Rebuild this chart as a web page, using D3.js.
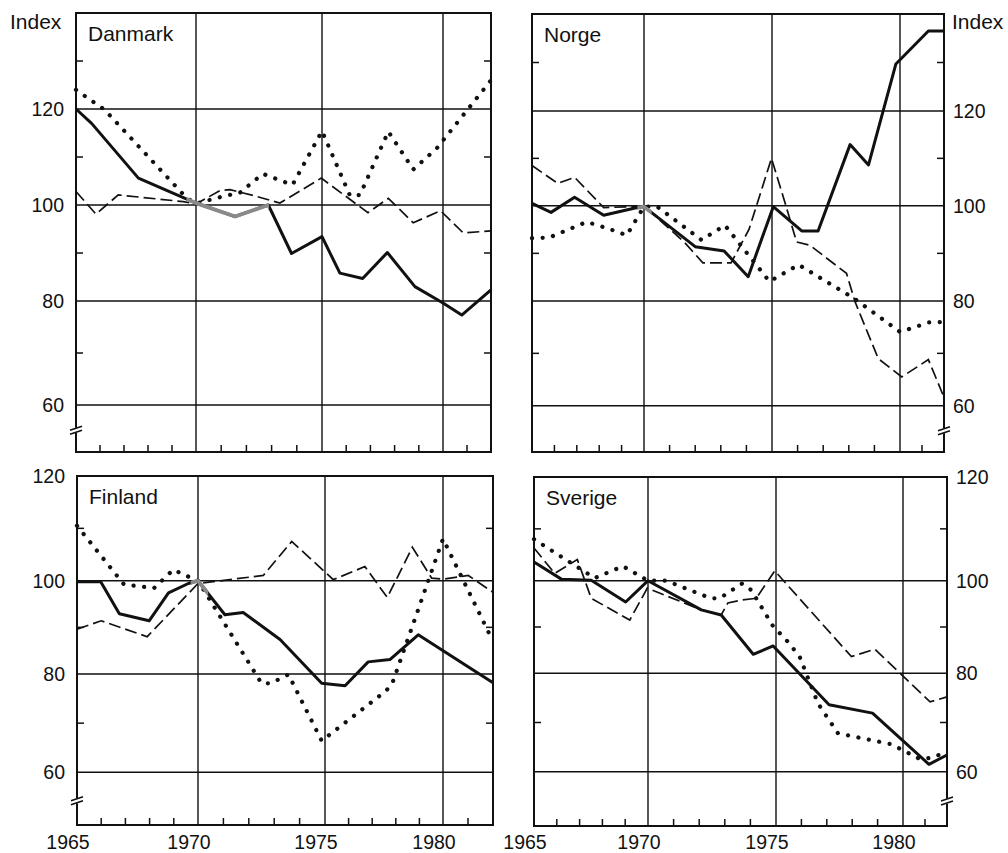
<!DOCTYPE html>
<html>
<head>
<meta charset="utf-8">
<script src="https://cdn.jsdelivr.net/npm/d3@7"></script>
<style>
body { margin: 0; background: #fff; }
svg text { font-family: "Liberation Sans", Arial, sans-serif; fill: #111; }
</style>
</head>
<body>
<svg id="chart" width="1008" height="853"></svg>
<script>
// data : [year, index (1970 = 100)]
var danmark_solid = [[1965,120],[1965.65,117],[1967.6,105.6],[1970,100.4],[1971.55,97.6],[1972.87,100],[1973.79,89.9],[1975,93.4],[1975.74,85.8],[1976.68,84.7],[1977.7,90.1],[1978.84,83],[1980,79.6],[1980.78,77.3],[1982,82.3]];
var danmark_dashed = [[1965,102.8],[1965.83,98.1],[1966.76,102.1],[1969.47,100.7],[1970,100.2],[1970.95,103],[1971.35,103.2],[1972.4,101.8],[1973.33,100.4],[1974.97,105.6],[1976.9,98.4],[1977.74,101.4],[1978.77,96.3],[1979.9,98.8],[1980.84,94.2],[1982,94.6]];
var danmark_dotted = [[1965,124],[1966.2,119.8],[1969.6,101.5],[1970,100.3],[1971,101.7],[1971.75,102.6],[1972.65,106.5],[1973.45,104.9],[1973.83,104.2],[1975,115.4],[1976.16,101.9],[1976.57,102.1],[1977.74,115.3],[1978.77,107.4],[1979.74,111.8],[1982,126]];

var norge_solid = [[1965,100.5],[1965.85,98.6],[1966.9,101.8],[1968.2,98],[1969.6,99.5],[1970,99.8],[1972,91.4],[1973.13,90.5],[1974.07,85.1],[1975.05,99.8],[1976.16,94.7],[1976.8,94.7],[1978.05,112.9],[1978.77,108.6],[1979.84,129.7],[1981.29,136.5],[1982,136.5]];
var norge_dashed = [[1965,108.5],[1966.15,104.7],[1966.9,106],[1968.2,99.6],[1969.45,99.8],[1970,100],[1971.6,92.2],[1972.3,88],[1973.4,88],[1974.1,95],[1974.98,110],[1975.5,100.8],[1975.96,92.4],[1976.48,91.7],[1977.91,85.8],[1978.24,79.9],[1979.15,69],[1980.08,65.5],[1981.29,68.8],[1982,61.6]];
var norge_dotted = [[1965,93.2],[1965.76,93.3],[1967.44,96.6],[1968.4,95.2],[1969.23,93.8],[1970,99.8],[1970.49,99.9],[1972.25,92.8],[1973.16,95.9],[1974.9,84.1],[1976.04,87.6],[1978.19,80.6],[1980,74.1],[1981.32,75.9],[1982,76]];

var finland_solid = [[1965,99.8],[1965.98,99.8],[1966.75,92.9],[1967.98,91.4],[1968.78,97.4],[1969.6,99.4],[1970,100],[1971.06,92.7],[1971.78,93.2],[1973.23,87.4],[1974.87,78.1],[1975.85,77.6],[1976.83,82.6],[1977.75,83.1],[1978.95,88.4],[1982,78.2]];
var finland_dashed = [[1965,89.6],[1966,91.4],[1967.9,88],[1970,99.4],[1972.57,101],[1973.69,107.5],[1975.35,100.2],[1976.69,102.7],[1977.64,96.4],[1978.7,106.4],[1979.52,100.5],[1980,100.3],[1981.01,101],[1982,97.5]];
var finland_dotted = [[1965,110.5],[1966.94,99.2],[1968.18,98.4],[1968.98,102.1],[1969.64,100.7],[1970,100],[1972.5,78.1],[1972.86,78.1],[1973.56,79.9],[1974.87,66.4],[1977.54,76.4],[1977.83,77.8],[1980,108],[1982,87]];

var sverige_solid = [[1965,103.6],[1966.2,100.3],[1967.51,100.1],[1969.02,95.4],[1970,100],[1972.08,93.7],[1972.86,92.6],[1974.11,84.1],[1974.89,85.9],[1977.09,73.6],[1978.8,71.9],[1981.18,61.5],[1982,63.4]];
var sverige_dashed = [[1965,106.3],[1965.91,101.4],[1966.9,104.1],[1967.51,96.2],[1969.2,91.5],[1969.97,98.4],[1972.08,93.7],[1972.86,92.6],[1973.12,95.2],[1973.64,95.8],[1974.23,96.2],[1974.95,101.9],[1977.97,83.6],[1978.89,85.2],[1981.23,74.2],[1982,75.2]];
var sverige_dotted = [[1965,108],[1967.66,100.5],[1968.9,102.8],[1970,100],[1970.71,100],[1972.45,96.2],[1972.8,96.2],[1973.68,99.4],[1974.03,98],[1974.88,90.2],[1975.47,86.8],[1975.93,83.6],[1976.65,73.9],[1977.44,67.8],[1979.53,65.6],[1980.76,62.6],[1981.3,62.8],[1982,64.1]];

var year_labels = [1965, 1970, 1975, 1980];
var year_grid = [1970, 1975, 1980];
var index_labels = [60, 80, 100, 120];
var index_minor = [70, 90, 110, 130];

// the printed grid is hand drawn, so the scales are piecewise
var x_domain = [1965, 1970, 1975, 1980, 1982];
var y_domain_top = [50, 60, 80, 100, 120, 140];
var y_domain_bottom = [50, 60, 80, 100, 120];

var panels = [
  { name: "Danmark", solid: danmark_solid, dashed: danmark_dashed, dotted: danmark_dotted,
    grey: [1969.6, 1972.9], side: "left", row: "top",
    xr: [76, 196, 322, 443, 491], yr: [452, 405, 301, 205, 109, 13] },
  { name: "Norge", solid: norge_solid, dashed: norge_dashed, dotted: norge_dotted,
    grey: [1969.7, 1970.3], side: "right", row: "top",
    xr: [532, 644, 772, 900, 944], yr: [452, 405.7, 301, 205.7, 111, 14] },
  { name: "Finland", solid: finland_solid, dashed: finland_dashed, dotted: finland_dotted,
    grey: [1969.7, 1970.4], side: "left", row: "bottom",
    xr: [77, 198, 325, 443, 493], yr: [825, 772.3, 674, 580.7, 476] },
  { name: "Sverige", solid: sverige_solid, dashed: sverige_dashed, dotted: sverige_dotted,
    grey: null, side: "right", row: "bottom",
    xr: [534, 648, 776, 903, 947], yr: [826, 771.7, 673.3, 580.7, 477] }
];

var svg = d3.select("#chart");

function drawPanel(p, i) {
  var yDom = p.row == "top" ? y_domain_top : y_domain_bottom;
  var x = d3.scaleLinear().domain(x_domain).range(p.xr);
  var y = d3.scaleLinear().domain(yDom).range(p.yr);
  var x0 = x(1965), x1 = x(1982);
  var yTop = y(d3.max(yDom)), yBot = y(50);
  var g = svg.append("g").attr("class", "panel");

  // grid
  g.selectAll(".hgrid")
    .data(index_labels.filter(function(v) { return y(v) > yTop + 2; }))
    .enter().append("line")
    .attr("x1", x0).attr("x2", x1)
    .attr("y1", function(d) { return y(d); }).attr("y2", function(d) { return y(d); })
    .attr("stroke", "#111").attr("stroke-width", 1.4);
  g.selectAll(".vgrid").data(year_grid).enter().append("line")
    .attr("x1", function(d) { return x(d); }).attr("x2", function(d) { return x(d); })
    .attr("y1", yTop).attr("y2", yBot)
    .attr("stroke", "#111").attr("stroke-width", 1.4);

  // small ticks
  var minorYears = d3.range(1966, 1982).filter(function(d) { return d % 5 != 0; });
  g.selectAll(".xtick").data(minorYears).enter().append("line")
    .attr("x1", function(d) { return x(d); }).attr("x2", function(d) { return x(d); })
    .attr("y1", yBot).attr("y2", yBot - 7)
    .attr("stroke", "#111").attr("stroke-width", 1.5);
  var minorIdx = index_minor.filter(function(v) { return v < d3.max(yDom); });
  [[x0, 7], [x1, -7]].forEach(function(s) {
    g.selectAll(null).data(minorIdx).enter().append("line")
      .attr("x1", s[0]).attr("x2", s[0] + s[1])
      .attr("y1", function(d) { return y(d); }).attr("y2", function(d) { return y(d); })
      .attr("stroke", "#111").attr("stroke-width", 1.5);
  });

  var line = d3.line()
    .x(function(d) { return x(d[0]); })
    .y(function(d) { return y(d[1]); });

  g.append("path").datum(p.dashed).attr("d", line)
    .attr("fill", "none").attr("stroke", "#111").attr("stroke-width", 1.7)
    .attr("stroke-dasharray", "12,5");
  g.append("path").datum(p.dotted).attr("d", line)
    .attr("fill", "none").attr("stroke", "#111").attr("stroke-width", 4.2)
    .attr("stroke-linecap", "round").attr("stroke-dasharray", "0.1,10.5");
  g.append("path").datum(p.solid).attr("d", line)
    .attr("fill", "none").attr("stroke", "#111").attr("stroke-width", 3)
    .attr("stroke-linejoin", "round");

  // grey overprint on the solid line around the base year
  if (p.grey) {
    var clipId = "grey" + i;
    svg.append("clipPath").attr("id", clipId).append("rect")
      .attr("x", x(p.grey[0])).attr("width", x(p.grey[1]) - x(p.grey[0]))
      .attr("y", yTop).attr("height", yBot - yTop);
    g.append("path").datum(p.solid).attr("d", line)
      .attr("clip-path", "url(#" + clipId + ")")
      .attr("fill", "none").attr("stroke", "#8a8a8a").attr("stroke-width", 3.8)
      .attr("stroke-linejoin", "round");
  }

  // frame
  g.append("rect").attr("x", x0).attr("y", yTop)
    .attr("width", x1 - x0).attr("height", yBot - yTop)
    .attr("fill", "none").attr("stroke", "#111").attr("stroke-width", 2);

  // axis break mark
  var ax = p.side == "left" ? x0 : x1, yb = y(54.5);
  g.append("line").attr("x1", ax).attr("x2", ax).attr("y1", yb - 3).attr("y2", yb + 2)
    .attr("stroke", "#fff").attr("stroke-width", 4);
  [-2.5, 1.5].forEach(function(o) {
    g.append("line")
      .attr("x1", ax - 6).attr("y1", yb + o + 2).attr("x2", ax + 6).attr("y2", yb + o - 2)
      .attr("stroke", "#111").attr("stroke-width", 1.6);
  });

  // index labels
  g.selectAll(".ylab").data(index_labels.filter(function(v) { return v <= d3.max(yDom); }))
    .enter().append("text")
    .attr("x", p.side == "left" ? x0 - 12 : x1 + 9)
    .attr("y", function(d) { return y(d); })
    .attr("dy", "0.36em")
    .attr("text-anchor", p.side == "left" ? "end" : "start")
    .style("font-size", "19.5px")
    .text(function(d) { return d; });

  if (p.row == "top") {
    g.append("text")
      .attr("x", p.side == "left" ? 10 : x1 + 8).attr("y", 29)
      .style("font-size", "21px")
      .text("Index");
  } else {
    g.selectAll(".xlab").data(year_labels).enter().append("text")
      .attr("x", function(d) { return x(d) - 9; })
      .attr("y", 849)
      .attr("text-anchor", "middle")
      .style("font-size", "19.5px")
      .text(function(d) { return d; });
  }

  g.append("text")
    .attr("x", x0 + 12).attr("y", yTop + 28)
    .style("font-size", "21px")
    .text(p.name);
}

panels.forEach(drawPanel);
</script>
</body>
</html>
